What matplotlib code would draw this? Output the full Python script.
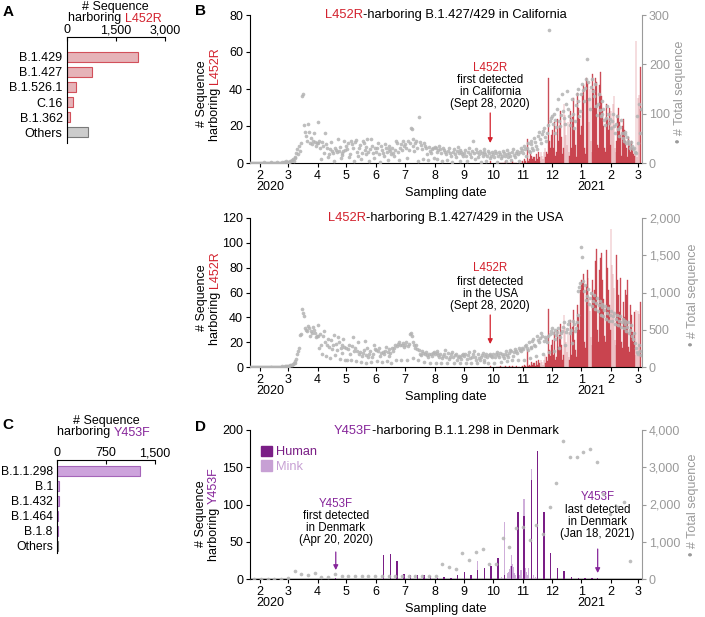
import numpy as np
import matplotlib
matplotlib.use("Agg")
import matplotlib.pyplot as plt
import matplotlib.dates as mdates
import matplotlib.transforms as mtransforms
from matplotlib.patches import Patch
from matplotlib.ticker import FuncFormatter

plt.rcParams["font.family"] = ["Liberation Sans", "DejaVu Sans"]
plt.rcParams["font.size"] = 9

W, H = 705, 617
RED = "#d3222e"
BAR_RED = "#c4323e"
PURPLE = "#86259a"
HUMAN = "#7a1e86"
MINK = "#c7a0d4"
GRAY = "#9a9a9a"
DOT = "#b3b3b3"

# ---- panel A / C : lineage counts ----
lineages_a = ["B.1.429", "B.1.427", "B.1.526.1", "C.16", "B.1.362", "Others"]
counts_a = [2180, 760, 280, 200, 100, 640]
lineages_c = ["B.1.1.298", "B.1", "B.1.432", "B.1.464", "B.1.8", "Others"]
counts_c = [1275, 30, 30, 10, 8, 8]

# ---- daily data, one list per month ----
month_starts = ["2020-01-21", "2020-02-01", "2020-03-01", "2020-04-01", "2020-05-01",
                "2020-06-01", "2020-07-01", "2020-08-01", "2020-09-01", "2020-10-01",
                "2020-11-01", "2020-12-01", "2021-01-01", "2021-02-01", "2021-03-01"]

# California, total sequences per day (right axis)
ca_total = [
    [0, 0, 1, 0, 0, 0, 1, 0, 0, 1, 0],
    [0, 1, 0, 0, 2, 0, 1, 0, 0, 1, 0, 0, 2, 1, 0, 0, 1, 0, 2, 0, 1, 0, 0, 2, 1, 3, 2, 4, 3],
    [3, 2, 5, 4, 6, 8, 5, 12, 10, 20, 28, 18, 35, 25, 40, 135, 140, 78, 62, 55, 45, 80, 62, 40, 50, 38, 45, 60, 42, 35, 40],
    [84, 40, 45, 30, 8, 42, 35, 20, 60, 38, 30, 12, 18, 28, 42, 25, 20, 5, 30, 27, 22, 48, 25, 33, 10, 20, 16, 24, 44, 26],
    [35, 28, 40, 12, 18, 45, 38, 30, 5, 42, 46, 22, 15, 30, 36, 8, 20, 44, 40, 26, 18, 32, 48, 22, 4, 28, 48, 35, 20, 10, 30],
    [22, 30, 40, 18, 2, 35, 26, 20, 15, 38, 30, 22, 6, 28, 35, 24, 18, 30, 20, 14, 26, 44, 40, 22, 6, 30, 38, 26, 44, 35],
    [38, 30, 10, 45, 26, 40, 70, 68, 48, 35, 25, 40, 44, 30, 4, 94, 42, 36, 28, 8, 40, 35, 30, 18, 6, 32, 24, 20, 28, 30, 10],
    [32, 30, 22, 8, 26, 35, 28, 20, 4, 30, 26, 22, 18, 6, 24, 30, 20, 15, 3, 22, 28, 18, 12, 25, 32, 20, 5, 26, 22, 18, 14],
    [20, 26, 15, 4, 22, 30, 18, 12, 25, 45, 20, 8, 28, 22, 12, 18, 25, 3, 20, 15, 28, 22, 18, 5, 15, 24, 20, 10, 14, 22],
    [18, 12, 25, 20, 3, 15, 22, 18, 10, 14, 24, 20, 15, 4, 18, 26, 12, 20, 15, 6, 22, 28, 16, 12, 20, 25, 18, 5, 22, 30, 26],
    [20, 35, 28, 15, 30, 40, 25, 22, 38, 45, 30, 26, 50, 42, 35, 28, 55, 62, 48, 40, 58, 65, 70, 52, 45, 60, 78, 270, 85, 92],
    [95, 80, 100, 88, 60, 72, 110, 130, 85, 75, 98, 140, 105, 92, 80, 120, 145, 110, 95, 78, 88, 130, 100, 70, 85, 118, 140, 150, 125, 96, 105],
    [140, 160, 148, 125, 152, 170, 210, 165, 130, 110, 155, 170, 145, 135, 160, 115, 98, 120, 140, 108, 95, 125, 100, 110, 88, 78, 92, 115, 100, 82, 90],
    [70, 85, 100, 75, 60, 80, 95, 68, 55, 72, 88, 60, 50, 45, 62, 58, 40, 52, 45, 38, 30, 42, 35, 28, 30, 22, 20, 95],
    [40, 120, 60, 110],
]

# USA, total sequences per day (right axis)
us_total = [
    [2, 0, 1, 3, 0, 2, 1, 0, 4, 1, 2],
    [1, 3, 0, 2, 5, 1, 0, 3, 2, 6, 1, 4, 2, 0, 3, 5, 2, 1, 4, 6, 3, 2, 5, 8, 4, 6, 10, 12, 15],
    [18, 20, 25, 30, 28, 40, 55, 60, 80, 110, 170, 220, 260, 430, 440, 780, 720, 680, 520, 500, 480, 550, 530, 420, 480, 460, 540, 500, 450, 400, 420],
    [560, 420, 250, 440, 300, 180, 410, 480, 330, 150, 300, 380, 270, 120, 360, 240, 290, 430, 160, 310, 230, 400, 330, 110, 250, 300, 190, 380, 270, 100],
    [260, 100, 240, 300, 180, 90, 280, 400, 210, 250, 80, 220, 330, 170, 200, 70, 150, 190, 230, 350, 160, 60, 250, 140, 180, 220, 70, 130, 170, 300, 240],
    [230, 80, 210, 260, 150, 190, 70, 200, 170, 220, 270, 80, 200, 240, 150, 190, 60, 260, 210, 250, 300, 90, 280, 310, 330, 290, 100, 300, 320, 270],
    [300, 330, 100, 280, 310, 440, 460, 420, 120, 330, 300, 260, 290, 240, 90, 230, 180, 160, 210, 190, 70, 170, 200, 160, 140, 180, 60, 170, 150, 190, 200],
    [170, 50, 190, 220, 160, 130, 180, 60, 120, 150, 170, 230, 140, 50, 190, 110, 130, 170, 200, 140, 60, 160, 180, 100, 130, 150, 50, 140, 110, 160, 170],
    [150, 180, 60, 110, 160, 200, 120, 50, 140, 170, 210, 130, 100, 60, 180, 120, 90, 140, 160, 190, 70, 100, 150, 170, 140, 60, 160, 180, 150, 140],
    [170, 60, 130, 180, 200, 160, 140, 190, 70, 170, 150, 120, 180, 220, 80, 160, 130, 190, 230, 210, 90, 150, 200, 240, 220, 190, 100, 250, 230, 210, 260],
    [240, 100, 280, 300, 260, 230, 330, 120, 270, 250, 350, 380, 300, 280, 150, 420, 360, 330, 390, 450, 410, 180, 350, 400, 380, 330, 420, 200, 440, 480],
    [520, 450, 210, 500, 380, 430, 470, 520, 250, 400, 450, 480, 540, 600, 300, 470, 510, 580, 620, 450, 500, 320, 620, 580, 480, 520, 600, 700, 1020, 1080, 1130],
    [1610, 1470, 1150, 1020, 1100, 900, 950, 1050, 850, 920, 1000, 820, 880, 960, 780, 860, 920, 750, 830, 880, 700, 800, 850, 680, 760, 820, 650, 720, 790, 620, 700],
    [750, 620, 680, 720, 580, 640, 700, 560, 620, 680, 540, 600, 650, 520, 580, 620, 480, 540, 600, 460, 500, 560, 420, 380, 450, 320, 260, 200],
    [180, 300, 220, 160],
]

# L452R-harboring sequences per day (left axis)
bar_starts = ["2020-09-28", "2020-10-01", "2020-11-01", "2020-12-01", "2021-01-01",
              "2021-02-01", "2021-03-01"]
ca_l452r = [
    [1],
    [0, 0, 0, 0, 0, 1, 0, 0, 0, 0, 0, 0, 0, 1, 0, 0, 0, 0, 0, 0, 1, 0, 0, 0, 0, 0, 0, 1, 0, 0, 1],
    [1, 0, 2, 1, 0, 13, 1, 2, 5, 4, 2, 3, 3, 1, 5, 2, 6, 3, 1, 6, 4, 2, 6, 8, 3, 6, 5, 46, 12, 8],
    [15, 18, 8, 22, 4, 6, 24, 12, 20, 28, 14, 5, 8, 32, 26, 15, 10, 22, 6, 4, 28, 8, 25, 35, 18, 10, 3, 38, 30, 24, 15],
    [20, 38, 42, 8, 5, 46, 44, 35, 22, 40, 12, 6, 48, 40, 30, 46, 44, 10, 8, 42, 49, 36, 28, 20, 8, 6, 32, 24, 18, 30, 10],
    [28, 20, 32, 36, 8, 6, 12, 26, 30, 22, 15, 4, 20, 24, 18, 12, 8, 3, 14, 10, 6, 12, 8, 5, 4, 6, 66, 3],
    [35, 37, 29, 52],
]
us_l452r = [
    [1],
    [0, 0, 0, 0, 1, 0, 0, 0, 1, 0, 0, 0, 0, 1, 0, 0, 0, 1, 0, 0, 1, 0, 0, 0, 1, 0, 0, 1, 0, 0, 1],
    [1, 0, 2, 1, 0, 14, 1, 2, 1, 4, 2, 3, 3, 1, 5, 2, 6, 3, 1, 6, 4, 2, 6, 10, 3, 8, 5, 47, 14, 9],
    [18, 22, 10, 28, 6, 8, 30, 16, 26, 35, 18, 6, 10, 42, 32, 20, 12, 28, 8, 6, 38, 10, 32, 46, 22, 14, 8, 50, 40, 30, 62],
    [70, 68, 75, 20, 15, 66, 78, 72, 55, 45, 24, 18, 70, 58, 62, 85, 95, 30, 20, 78, 88, 92, 70, 55, 25, 20, 94, 80, 62, 50, 30],
    [111, 82, 75, 64, 22, 18, 90, 70, 58, 44, 72, 20, 15, 52, 40, 62, 58, 70, 16, 12, 50, 42, 28, 20, 44, 10, 46, 12],
    [45, 43, 18, 52],
]

# Denmark: weekly total sequences (right axis), from 2020-01-19
dk_week_start = "2020-01-19"
dk_total = [0, 0, 0, 0, 0, 0, 20, 215, 134, 107, 170, 63, 63, 143, 90,
            90, 90, 90, 90, 90, 90, 90, 90, 80, 80, 80, 80, 80, 80,
            394, 313, 260, 690, 500, 733, 805, 403, 394, 1092, 868, 1378,
            1405, 1047, 1450, 1200, 1942, 2586, 3714, 3284, 3284,
            3400, 3480, 3150, 2282, 1750, 1940, 2076, 483]

# Denmark: Y453F-harboring sequences (left axis)
human_dates = ["2020-04-20", "2020-06-09", "2020-06-16", "2020-06-23", "2020-06-30", "2020-07-07",
               "2020-07-14", "2020-07-21", "2020-07-28", "2020-08-04", "2020-08-11", "2020-08-18",
               "2020-08-25", "2020-09-01", "2020-09-08", "2020-09-15", "2020-09-22", "2020-09-29",
               "2020-10-06", "2020-10-13", "2020-10-20", "2020-10-27", "2020-11-02", "2020-11-10",
               "2020-11-16", "2020-11-23", "2020-11-30", "2020-12-07", "2020-12-14", "2020-12-22",
               "2020-12-29", "2021-01-05", "2021-01-12", "2021-01-18"]
human_counts = [1, 32, 33, 24, 7, 6, 5, 5, 4, 2, 3, 2, 6, 10, 6, 12, 15, 18,
                28, 5, 17, 90, 85, 133, 172, 90, 35, 15, 11, 3, 2, 1, 2, 1]
mink_dates = ["2020-09-15", "2020-09-29", "2020-10-06", "2020-10-10", "2020-10-13", "2020-10-16",
              "2020-10-17", "2020-10-18", "2020-10-19", "2020-10-20", "2020-10-21", "2020-10-22",
              "2020-10-23", "2020-10-24", "2020-10-28", "2020-10-30", "2020-11-02", "2020-11-04",
              "2020-11-05", "2020-11-06", "2020-11-07", "2020-11-10", "2020-11-12", "2020-11-14"]
mink_counts = [24, 5, 4, 3, 77, 8, 10, 14, 18, 32, 20, 16, 8, 5, 6, 12, 107, 15,
               10, 6, 15, 147, 5, 3]


def to_num(d):
    return mdates.date2num(np.datetime64(d))


def daily(starts, chunks):
    xs, ys = [], []
    for s, vals in zip(starts, chunks):
        d0 = np.datetime64(s)
        xs.extend(d0 + np.arange(len(vals)))
        ys.extend(vals)
    return mdates.date2num(np.array(xs)), np.array(ys)


def add_axes_px(fig, left, top, right, bottom):
    return fig.add_axes([left / W, 1 - bottom / H, (right - left) / W, (bottom - top) / H])


def rich_text(fig, x, y, parts, rotation=0, fontsize=9, **kw):
    """Multi-colour text centred at (x, y) figure pixels, measured from top-left."""
    r = fig.canvas.get_renderer()

    def width(s):
        t = fig.text(0, 0, s, fontsize=fontsize, **kw)
        w = t.get_window_extent(r).width
        t.remove()
        return w

    full = "".join(s for s, _ in parts)
    start = -width(full) / 2
    done = ""
    for s, c in parts:
        done += s
        off = start + width(done) - width(s)
        if rotation == 90:
            px, py = x, (H - y) + off
        else:
            px, py = x + off, H - y
        fig.text(px / W, py / H, s, color=c, fontsize=fontsize, rotation=rotation,
                 rotation_mode="anchor", ha="left", va="center", **kw)


def lineage_panel(ax, names, counts, color_face, color_edge, xmax, xticks, ylim, labelsize=9):
    y = np.arange(len(names))
    faces = [color_face] * (len(names) - 1) + ["#cccccc"]
    edges = [color_edge] * (len(names) - 1) + ["#7a7a7a"]
    ax.barh(y, counts, height=0.65, color=faces, edgecolor=edges, linewidth=0.8)
    ax.set_ylim(*ylim)
    ax.set_xlim(0, xmax)
    ax.set_yticks(y)
    ax.set_yticklabels(names)
    ax.tick_params(axis="y", length=0, pad=3, labelsize=labelsize)
    ax.xaxis.tick_top()
    ax.set_xticks(xticks)
    ax.xaxis.set_major_formatter(FuncFormatter(lambda v, p: f"{v:,.0f}"))
    ax.tick_params(axis="x", direction="in", length=3, pad=0.5, labelsize=9, width=0.8)
    for side in ["right", "bottom"]:
        ax.spines[side].set_visible(False)
    ax.spines["top"].set_linewidth(0.8)
    ax.spines["left"].set_linewidth(0.8)


month_ticks = [to_num(d) for d in
               ["2020-02-01", "2020-03-01", "2020-04-01", "2020-05-01", "2020-06-01",
                "2020-07-01", "2020-08-01", "2020-09-01", "2020-10-01", "2020-11-01",
                "2020-12-01", "2021-01-01", "2021-02-01", "2021-03-01"]]
month_labels = ["2", "3", "4", "5", "6", "7", "8", "9", "10", "11", "12", "1", "2", "3"]


def time_panel(ax, ymax, ystep, rmax, rstep):
    ax.set_xlim(to_num("2020-01-21") + 0.6, to_num("2021-03-05") + 0.2)
    ax.set_ylim(0, ymax)
    ax.set_yticks(np.arange(0, ymax + 1, ystep))
    ax.set_xticks(month_ticks)
    ax.set_xticklabels(month_labels)
    ax.tick_params(axis="both", length=3, width=0.8, pad=2, labelsize=9)
    ax.spines["top"].set_visible(False)
    ax.spines["right"].set_visible(False)
    ax.spines["left"].set_linewidth(0.8)
    ax.spines["bottom"].set_linewidth(0.8)
    tr = mtransforms.blended_transform_factory(ax.transData, ax.transAxes)
    for d, yr in [("2020-02-01", "2020"), ("2021-01-01", "2021")]:
        ax.annotate(yr, xy=(to_num(d), 0), xycoords=tr, xytext=(-4, -24),
                    textcoords="offset pixels", ha="left", va="center", fontsize=9)
    ax.annotate("Sampling date", xy=(0.5, 0), xycoords="axes fraction", xytext=(0, -30),
                textcoords="offset pixels", ha="center", va="center", fontsize=9.2)
    ax2 = ax.twinx()
    ax2.set_ylim(0, rmax)
    ax2.set_yticks(np.arange(0, rmax + 1, rstep))
    ax2.yaxis.set_major_formatter(FuncFormatter(lambda v, p: f"{v:,.0f}"))
    ax2.tick_params(axis="y", length=3, width=0.8, pad=2, labelsize=9,
                    colors=GRAY, labelcolor=GRAY)
    for side in ["top", "left", "bottom"]:
        ax2.spines[side].set_visible(False)
    ax2.spines["right"].set_color(GRAY)
    ax2.spines["right"].set_linewidth(0.8)
    return ax2


def note(ax, day, lines, first_color, y_first, y_block, arrow_ys):
    tr = mtransforms.blended_transform_factory(ax.transData, ax.transAxes)
    x = to_num(day)
    ax.text(x, y_first, lines[0], transform=tr, ha="center", va="center", fontsize=8.3,
            color=first_color)
    ax.text(x, y_block, "\n".join(lines[1:]), transform=tr, ha="center", va="center",
            fontsize=8.3, linespacing=0.98, color="black")
    ax.annotate("", xy=(x, arrow_ys[1]), xytext=(x, arrow_ys[0]), xycoords=tr, textcoords=tr,
                arrowprops=dict(arrowstyle="-|>", color=first_color, lw=0.9,
                                mutation_scale=7, shrinkA=0, shrinkB=0))


def main():
    fig = plt.figure(figsize=(W / 100, H / 100), dpi=100)

    # ---------- A ----------
    axA = add_axes_px(fig, 66.7, 37, 165, 143)
    lineage_panel(axA, lineages_a, counts_a, "#e6b3b8", "#d2505b", 3000, [0, 1500, 3000],
                  (5.73, -1.33))
    rich_text(fig, 115, 7, [("# Sequence", "black")])
    rich_text(fig, 115, 18.5, [("harboring ", "black"), ("L452R", RED)])

    # ---------- C ----------
    axC = add_axes_px(fig, 57, 460, 155, 553)
    lineage_panel(axC, lineages_c, counts_c, "#cda3dc", "#a565b9", 1500, [0, 750, 1500],
                  (5.47, -0.73), labelsize=8.8)
    rich_text(fig, 106, 421, [("# Sequence", "black")])
    rich_text(fig, 104, 432.5, [("harboring ", "black"), ("Y453F", PURPLE)])

    # ---------- B: California ----------
    axB = add_axes_px(fig, 250, 15, 642, 163)
    x, v = daily(bar_starts, ca_l452r)
    axB.bar(x, v, width=0.8, color=BAR_RED, alpha=0.8, edgecolor=BAR_RED, linewidth=0.3)
    axB2 = time_panel(axB, 80, 20, 300, 100)
    x, v = daily(month_starts, ca_total)
    axB2.scatter(x, v, s=7, color=DOT, linewidths=0, alpha=0.85)
    note(axB, "2020-09-28", ["L452R", "first detected", "in California", "(Sept 28, 2020)"],
         RED, 0.642, 0.480, [0.338, 0.135])
    rich_text(fig, 446, 15, [("L452R", RED), ("-harboring B.1.427/429 in California", "black")],
              fontsize=9.3)
    rich_text(fig, 202, 94, [("# Sequence", "black")], rotation=90)
    rich_text(fig, 215, 94, [("harboring ", "black"), ("L452R", RED)], rotation=90)
    rich_text(fig, 680, 92, [("\u2022 # Total sequence", GRAY)], rotation=90)

    # ---------- B: USA ----------
    axU = add_axes_px(fig, 250, 218, 642, 367)
    x, v = daily(bar_starts, us_l452r)
    axU.bar(x, v, width=0.8, color=BAR_RED, alpha=0.8, edgecolor=BAR_RED, linewidth=0.3)
    axU2 = time_panel(axU, 120, 20, 2000, 500)
    x, v = daily(month_starts, us_total)
    axU2.scatter(x, v, s=7, color=DOT, linewidths=0, alpha=0.85)
    note(axU, "2020-09-28", ["L452R", "first detected", "in the USA", "(Sept 28, 2020)"],
         RED, 0.665, 0.490, [0.349, 0.154])
    rich_text(fig, 446, 218, [("L452R", RED), ("-harboring B.1.427/429 in the USA", "black")],
              fontsize=9.3)
    rich_text(fig, 202, 298, [("# Sequence", "black")], rotation=90)
    rich_text(fig, 215, 298, [("harboring ", "black"), ("L452R", RED)], rotation=90)
    rich_text(fig, 693, 295, [("\u2022 # Total sequence", GRAY)], rotation=90)

    # ---------- D: Denmark ----------
    axD = add_axes_px(fig, 250, 430, 642, 579)
    axD.axhline(0, color="#c4c4c4", lw=2.2, zorder=1)
    axD.bar(mdates.date2num(np.array(mink_dates, dtype="datetime64[D]")), mink_counts,
            width=1.5, color=MINK, alpha=0.85, linewidth=0, zorder=2)
    axD.bar(mdates.date2num(np.array(human_dates, dtype="datetime64[D]")), human_counts,
            width=1.5, color=HUMAN, linewidth=0, zorder=3)
    axD2 = time_panel(axD, 200, 50, 4000, 1000)
    wk = mdates.date2num(np.datetime64(dk_week_start) + 7 * np.arange(len(dk_total)))
    axD2.scatter(wk, dk_total, s=7, color=DOT, linewidths=0, alpha=0.85)
    note(axD, "2020-04-20", ["Y453F", "first detected", "in Denmark", "(Apr 20, 2020)"],
         PURPLE, 0.505, 0.342, [0.181, 0.060])
    note(axD, "2021-01-18", ["Y453F", "last detected", "in Denmark", "(Jan 18, 2021)"],
         PURPLE, 0.552, 0.383, [0.201, 0.040])
    axD.legend(handles=[Patch(color=HUMAN), Patch(color=MINK)], labels=["Human", "Mink"],
               labelcolor=[HUMAN, MINK], frameon=False, loc="upper left",
               bbox_to_anchor=(0.015, 0.93), handlelength=0.9, handleheight=0.9,
               handletextpad=0.3, borderaxespad=0, labelspacing=0.15, fontsize=9.2)
    rich_text(fig, 446, 431, [("Y453F", PURPLE), ("-harboring B.1.1.298 in Denmark", "black")],
              fontsize=9.3)
    rich_text(fig, 201, 514, [("# Sequence", "black")], rotation=90)
    rich_text(fig, 214, 514, [("harboring ", "black"), ("Y453F", PURPLE)], rotation=90)
    rich_text(fig, 693, 505, [("\u2022 # Total sequence", GRAY)], rotation=90)

    # panel letters
    for letter, (px, py) in {"A": (8, 12), "B": (200, 11), "C": (8, 425), "D": (200, 427)}.items():
        fig.text(px / W, 1 - py / H, letter, fontsize=11, fontweight="bold", ha="center", va="center")

    fig.savefig("out.png", dpi=100)
    plt.close(fig)


if __name__ == "__main__":
    main()
